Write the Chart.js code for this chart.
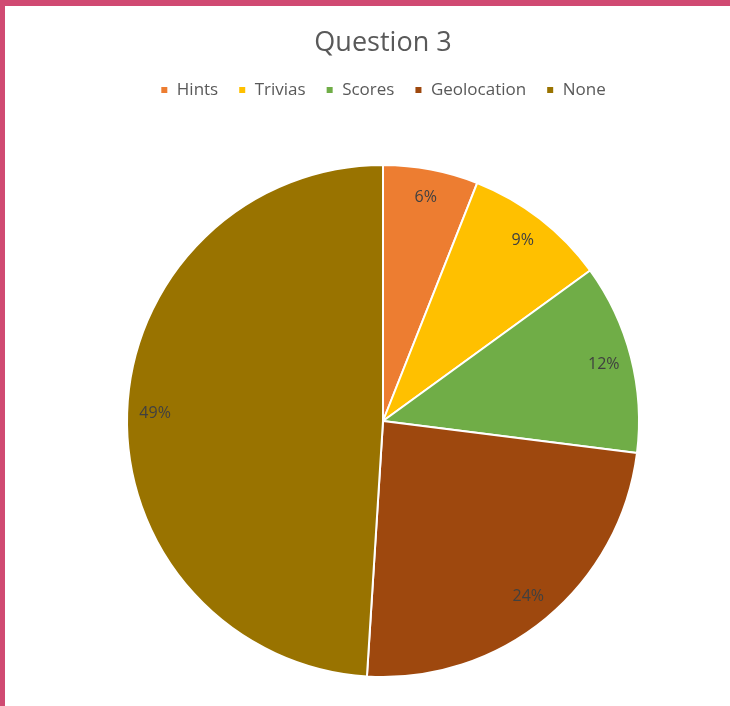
<!DOCTYPE html>
<html>
<head>
<meta charset="utf-8">
<script src="https://cdn.jsdelivr.net/npm/chart.js@4/dist/chart.umd.min.js"></script>
<style>
  html, body { margin: 0; padding: 0; }
  body { width: 730px; height: 706px; background: #D04A72; position: relative; overflow: hidden; }
  #frame { position: absolute; left: 5px; top: 6px; width: 725px; height: 700px; background: #ffffff; }
  canvas { display: block; }
</style>
</head>
<body>
<div id="frame"><canvas id="chart" width="725" height="700"></canvas></div>
<script>
const categories = ['Hints', 'Trivias', 'Scores', 'Geolocation', 'None'];
const shares = [6, 9, 12, 24, 49];
const sliceColors = ['#ED7D31', '#FFC000', '#70AD47', '#9E480E', '#997300'];

// Percentage labels placed inside each slice, near the rim
const sliceLabels = {
  id: 'sliceLabels',
  afterDatasetsDraw(chart) {
    const ctx = chart.ctx;
    const meta = chart.getDatasetMeta(0);
    const total = shares.reduce((a, b) => a + b, 0);
    ctx.save();
    ctx.font = '16px "Open Sans", sans-serif';
    ctx.fillStyle = '#404040';
    ctx.textAlign = 'center';
    ctx.textBaseline = 'middle';
    meta.data.forEach((arc, i) => {
      const mid = (arc.startAngle + arc.endAngle) / 2;
      const r = arc.outerRadius - 28;
      const x = arc.x + Math.cos(mid) * r;
      const y = arc.y + Math.sin(mid) * r;
      ctx.fillText(Math.round(shares[i] / total * 100) + '%', x, y);
    });
    ctx.restore();
  }
};

// Extra room below the legend so the pie starts lower
const legendGap = {
  id: 'legendGap',
  beforeInit(chart) {
    const legend = chart.legend;
    const baseFit = legend.fit;
    legend.fit = function () {
      baseFit.call(this);
      this.height = 102.6;
    };
  }
};

new Chart(document.getElementById('chart'), {
  type: 'pie',
  data: {
    labels: categories,
    datasets: [{
      data: shares,
      backgroundColor: sliceColors,
      borderColor: '#ffffff',
      borderWidth: 2
    }]
  },
  options: {
    responsive: false,
    animation: false,
    layout: { padding: { left: 121, right: 90, top: 0, bottom: 28 } },
    plugins: {
      title: {
        display: true,
        text: 'Question 3',
        color: '#595959',
        font: { family: '"Open Sans", sans-serif', size: 27, weight: 'normal' },
        padding: { top: 21, bottom: 2 }
      },
      legend: {
        position: 'top',
        labels: {
          color: '#595959',
          font: { family: '"Open Sans", sans-serif', size: 17 },
          boxWidth: 8,
          boxHeight: 8,
          padding: 20
        }
      },
      tooltip: { enabled: false }
    }
  },
  plugins: [sliceLabels, legendGap]
});
</script>
</body>
</html>
